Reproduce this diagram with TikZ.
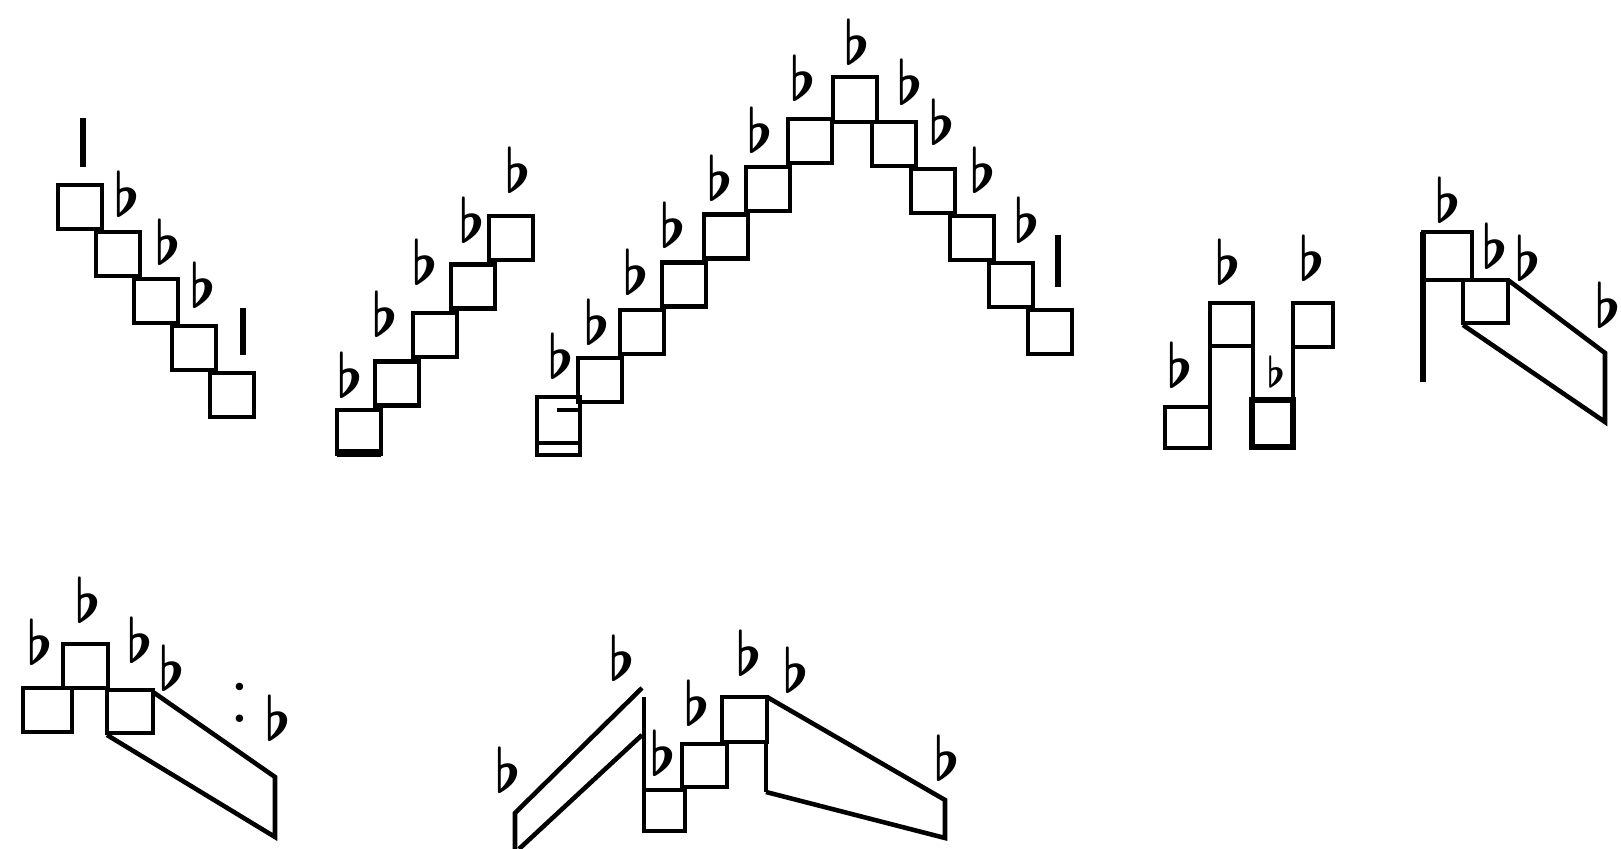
\documentclass[tikz,border=0pt]{standalone}
\usepackage{amsmath}
\usepackage{amssymb}
\begin{document}
\begin{tikzpicture}[x=0.1mm,y=-0.1mm,line width=1.3pt,
  fl/.style={inner sep=0pt,font=\fontsize{17.28}{18}\selectfont},
  bar/.style={line width=1.6pt}]
  \useasboundingbox (0,0) rectangle (1621,849);
  % descending run
  \foreach \i in {0,...,4}
    \draw (58+38*\i,185+47*\i) rectangle ++(44,44);
  \draw[bar] (83,118) -- (83,167);
  \draw[bar] (243,308) -- (243,355);
  % ascending run
  \foreach \i in {0,...,4}
    \draw (337+38*\i,410-48.5*\i) rectangle ++(44,44);
  \draw[line width=2.4pt] (337,453) -- (381,453);
  % long arch
  \draw (537,397) rectangle (580,455);
  \draw (537,443) -- (580,443);
  \draw (557,410) -- (580,410);
  \foreach \i in {0,...,5}
    \draw (578+42*\i,358-47.8*\i) rectangle ++(44,44);
  \draw (833,77) rectangle ++(44,45);
  \foreach \i in {0,...,4}
    \draw (872+39*\i,122+47*\i) rectangle ++(44,44);
  \draw[bar] (1058,235) -- (1058,287);
  % H figure
  \draw (1165,407) rectangle (1210,448);
  \draw (1210,407) -- (1210,303) -- (1253,303) -- (1253,400);
  \draw (1210,346) -- (1253,346);
  \draw[line width=1.8pt] (1252,400) rectangle (1293,447);
  \draw (1293,400) -- (1293,303) rectangle (1333,347);
  % figure with oblique tail
  \draw[line width=1.6pt] (1423,382) -- (1423,232);
  \draw (1423,232) rectangle (1472,280);
  \draw (1463,280) rectangle (1508,323);
  \draw (1508,280) -- (1605,353) -- (1605,422) -- (1463,325);
  % lower left figure
  \draw (23,688) rectangle (72,732);
  \draw (63,644) rectangle (108,688);
  \draw (107,690) rectangle (153,733);
  \draw (153,692) -- (275,777) -- (275,837) -- (107,735);
  % lower middle figure
  \draw (642,688) -- (515,813) -- (515,849);
  \draw (519,849) -- (642,735);
  \draw (644,697) -- (644,831);
  \draw (644,790) rectangle (685,831);
  \draw (682,744) rectangle (727,787);
  \draw (722,697) rectangle (767,742);
  \draw (766,742) -- (766,792);
  \draw (767,697) -- (945,800) -- (945,838) -- (766,792);
  % flats
  \foreach \x/\y [count=\i] in {127/194,168/242,203/285,
      350/375,385/314,425/262,472/220,518/170,
      561/356,597/322,636/272,673/225,720/178,760/130,803/78,
      857/42,910/82,942/122,983/170,1027/220,
      1180/365,1228/262,1312/258,1448/200,1495/246,1528/258,1608/305,
      40/642,88/600,140/640,172/668,278/718,
      508/770,622/658,663/753,697/703,749/653,796/670,947/758}
    \node[fl] (f\i) at (\x,\y) {$\boldsymbol{\flat}$};
  \node[fl,font=\fontsize{12}{12}\selectfont] (fs) at (1276,372) {$\boldsymbol{\flat}$};
  \node[fl,font=\fontsize{26}{26}\selectfont] (dots) at (240,703) {:};
\end{tikzpicture}
\end{document}
